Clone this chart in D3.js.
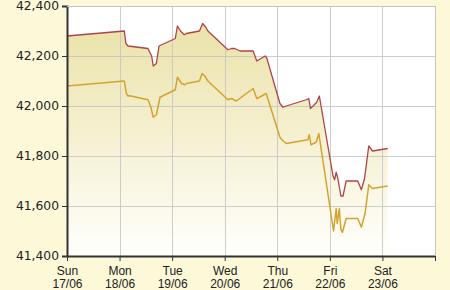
<!DOCTYPE html>
<html>
<head>
<meta charset="utf-8">
<script src="https://cdn.jsdelivr.net/npm/d3@7"></script>
<style>
  html, body { margin: 0; padding: 0; background: #fcf8d8; }
  svg { display: block; }
</style>
</head>
<body>
<div id="app"></div>
<script>
// day offsets from Sun 17/06 00:00, prices in thousand VND
const sellDays = [0.00, 1.09, 1.12, 1.16, 1.54, 1.61, 1.64, 1.70, 1.75, 2.06, 2.10, 2.16, 2.23, 2.27, 2.52, 2.58, 2.64, 2.68,
  3.06, 3.13, 3.19, 3.29, 3.54, 3.61, 3.77, 3.80, 4.05, 4.11, 4.17, 4.55, 4.60, 4.63, 4.68, 4.75, 4.80,
  5.06, 5.09, 5.12, 5.15, 5.21, 5.25, 5.31, 5.53, 5.60, 5.66, 5.74, 5.81, 6.10];
const sellValues = [42280, 42300, 42250, 42240, 42230, 42200, 42160, 42170, 42240, 42270, 42320, 42300, 42285, 42290, 42300, 42330, 42315, 42300,
  42225, 42230, 42230, 42220, 42220, 42180, 42200, 42192, 42010, 41995, 42000, 42025, 42030, 41990, 42000, 42015, 42040,
  41720, 41705, 41735, 41712, 41640, 41640, 41700, 41700, 41665, 41710, 41840, 41820, 41830];

const buyDays = [0.00, 1.09, 1.13, 1.16, 1.19, 1.54, 1.59, 1.64, 1.70, 1.77, 2.06, 2.10, 2.18, 2.24, 2.27, 2.52, 2.57, 2.62, 2.68,
  3.06, 3.13, 3.22, 3.54, 3.61, 3.66, 3.79, 4.05, 4.11, 4.17, 4.58, 4.61, 4.64, 4.74, 4.79,
  5.07, 5.12, 5.14, 5.18, 5.21, 5.24, 5.31, 5.53, 5.60, 5.67, 5.74, 5.81, 6.10];
const buyValues = [42080, 42100, 42050, 42040, 42041, 42025, 42000, 41955, 41965, 42035, 42065, 42115, 42090, 42085, 42090, 42100, 42130, 42120, 42100,
  42025, 42030, 42020, 42070, 42030, 42035, 42050, 41875, 41860, 41850, 41865, 41885, 41845, 41855, 41890,
  41500, 41590, 41530, 41590, 41505, 41495, 41550, 41550, 41515, 41570, 41685, 41670, 41680];

const dayNames = ["Sun", "Mon", "Tue", "Wed", "Thu", "Fri", "Sat", ""];
const dayDates = ["17/06", "18/06", "19/06", "20/06", "21/06", "22/06", "23/06", ""];
const yTicks = [41400, 41600, 41800, 42000, 42200, 42400];

const width = 450;
const height = 290;
const margin = { top: 6, right: 15, bottom: 34, left: 67 };

const sell = sellDays.map((d, i) => ({ day: d, value: sellValues[i] }));
const buy = buyDays.map((d, i) => ({ day: d, value: buyValues[i] }));

const svg = d3.select("#app")
  .append("svg")
  .attr("width", width)
  .attr("height", height)
  .attr("viewBox", [0, 0, width, height]);

svg.append("rect")
  .attr("width", width)
  .attr("height", height)
  .attr("fill", "#fcf8d8");

const x = d3.scaleLinear()
  .domain([0, 7])
  .range([margin.left, width - margin.right]);

const y = d3.scaleLinear()
  .domain([41400, 42400])
  .range([height - margin.bottom, margin.top]);

// plot background
svg.append("rect")
  .attr("x", x(0))
  .attr("y", y(42400))
  .attr("width", x(7) - x(0))
  .attr("height", y(41400) - y(42400))
  .attr("fill", "#ffffff");

const grad = svg.append("defs")
  .append("linearGradient")
  .attr("id", "fillGrad")
  .attr("gradientUnits", "userSpaceOnUse")
  .attr("x1", 0).attr("x2", 0)
  .attr("y1", y(42400)).attr("y2", y(41400));
grad.append("stop").attr("offset", "0%").attr("stop-color", "#e9e0a2");
grad.append("stop").attr("offset", "55%").attr("stop-color", "#f6f1d4");
grad.append("stop").attr("offset", "100%").attr("stop-color", "#fffffc");

const area = d3.area()
  .x((d) => x(d.day))
  .y0(y(41400))
  .y1((d) => y(d.value));

svg.append("path")
  .datum(sell)
  .attr("fill", "url(#fillGrad)")
  .attr("d", area);

// grid
const grid = svg.append("g")
  .attr("stroke", "#c4c4c4")
  .attr("stroke-opacity", 0.85)
  .attr("stroke-width", 1);

grid.selectAll(".hgrid")
  .data(yTicks.slice(1))
  .join("line")
  .attr("x1", x(0))
  .attr("x2", x(7))
  .attr("y1", (d) => Math.round(y(d)) + 0.5)
  .attr("y2", (d) => Math.round(y(d)) + 0.5);

grid.selectAll(".vgrid")
  .data(d3.range(1, 8))
  .join("line")
  .attr("x1", (d) => Math.round(x(d)) + 0.5)
  .attr("x2", (d) => Math.round(x(d)) + 0.5)
  .attr("y1", y(42400))
  .attr("y2", y(41400));

const line = d3.line()
  .x((d) => x(d.day))
  .y((d) => y(d.value));

svg.append("path")
  .datum(buy)
  .attr("fill", "none")
  .attr("stroke", "#d2a42e")
  .attr("stroke-width", 1.5)
  .attr("stroke-linejoin", "round")
  .attr("d", line);

svg.append("path")
  .datum(sell)
  .attr("fill", "none")
  .attr("stroke", "#ad4448")
  .attr("stroke-width", 1.3)
  .attr("stroke-linejoin", "round")
  .attr("d", line);

// axes
const yAxis = svg.append("g")
  .attr("transform", `translate(${x(0)},0)`)
  .call(d3.axisLeft(y).tickValues(yTicks).tickFormat(d3.format(",")).tickSize(5).tickPadding(3));

yAxis.select(".domain").attr("stroke", "#333").attr("stroke-width", 2);
yAxis.selectAll(".tick line").attr("stroke", "#333");
yAxis.selectAll("text")
  .attr("fill", "#222")
  .style("font-family", "'DejaVu Sans', sans-serif")
  .style("font-size", "12.3px");

const xAxis = svg.append("g")
  .attr("transform", `translate(0,${y(41400)})`)
  .call(d3.axisBottom(x).tickValues(d3.range(0, 8)).tickFormat("").tickSize(5).tickSizeOuter(0));

xAxis.select(".domain").attr("stroke", "#333").attr("stroke-width", 2);
xAxis.selectAll(".tick line").attr("stroke", "#333");

const labels = xAxis.selectAll(".tick text")
  .attr("fill", "#222")
  .attr("y", null)
  .attr("dy", null)
  .style("font-family", "'Liberation Sans', Arial, sans-serif")
  .style("font-size", "12px");

labels.each(function (d) {
  const t = d3.select(this);
  t.append("tspan").attr("x", 0).attr("y", 19).text(dayNames[d]);
  t.append("tspan").attr("x", 0).attr("y", 32).text(dayDates[d]);
});

// top and right border
svg.append("path")
  .attr("fill", "none")
  .attr("stroke", "#c4c4c4")
  .attr("d", `M${x(0)},${y(42400) + 0.5}H${Math.round(x(7)) + 0.5}V${y(41400)}`);
</script>
</body>
</html>
